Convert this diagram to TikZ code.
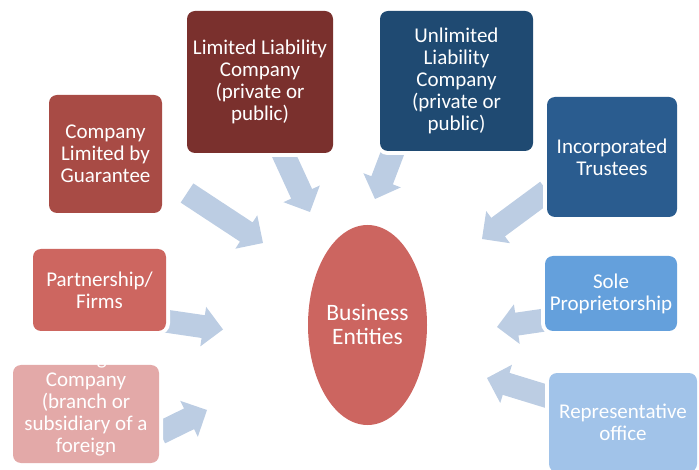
\documentclass[tikz,border=0pt]{standalone}
\usepackage{fontspec}
\setmainfont{Carlito}
\usetikzlibrary{calc,shapes.geometric}
\definecolor{cguar}{HTML}{A84B45}
\definecolor{cllc}{HTML}{7A302D}
\definecolor{cunl}{HTML}{1F4A72}
\definecolor{ctrust}{HTML}{2A5C8F}
\definecolor{csole}{HTML}{64A0DC}
\definecolor{crep}{HTML}{A1C3E9}
\definecolor{cpart}{HTML}{CD6660}
\definecolor{cfor}{HTML}{E3A9A8}
\definecolor{cell}{HTML}{CC6560}
\definecolor{carr}{HTML}{BCCDE3}
\tikzset{
  box/.style={rectangle, rounded corners=8pt, inner sep=0pt, align=center,
    text=white, font=\fontsize{21}{22}\selectfont,
    preaction={draw=white, line width=8pt}},
  ent/.style={ellipse, inner sep=0pt, align=center, text=white,
    font=\fontsize{23.5}{24}\selectfont, fill=cell,
    minimum width=119pt, minimum height=200pt},
  arrowfill/.style={fill=carr}
}
\newcommand\blockarr[2]{%
  \coordinate (#1-h) at ($(#2)!20pt!(#1)$);
  \fill[arrowfill] ($(#1)!11.5pt!90:(#2)$) -- ($(#1-h)!11.5pt!90:(#2)$)
    -- ($(#1-h)!20pt!90:(#2)$) -- (#2) -- ($(#1-h)!20pt!-90:(#2)$)
    -- ($(#1-h)!11.5pt!-90:(#2)$) -- ($(#1)!11.5pt!-90:(#2)$) -- cycle;}
\begin{document}
\begin{tikzpicture}[x=1pt,y=-1pt]
\useasboundingbox (0,0) rectangle (699,470);
% arrow end points
\coordinate (a1t) at (187,193);   \coordinate (a1h) at (263,243);
\coordinate (a2t) at (281.5,150); \coordinate (a2h) at (310,212);
\coordinate (a3t) at (394,149);   \coordinate (a3h) at (375,199);
\coordinate (a4t) at (547,191);   \coordinate (a4h) at (482,239);
\coordinate (a5t) at (545,320);   \coordinate (a5h) at (497,327);
\coordinate (a6t) at (549,397);   \coordinate (a6h) at (487,378);
\coordinate (a7t) at (165,321);   \coordinate (a7h) at (223,329.5);
\coordinate (a8t) at (160,433);   \coordinate (a8h) at (207,410);
\blockarr{a1t}{a1h}
\blockarr{a2t}{a2h}
\blockarr{a3t}{a3h}
\blockarr{a4t}{a4h}
\blockarr{a5t}{a5h}
\blockarr{a6t}{a6h}
\blockarr{a7t}{a7h}
\blockarr{a8t}{a8h}
% boxes
\node[box, fill=cguar, minimum width=113pt, minimum height=118pt] (guar) at (105.5,154)
  {Company\\Limited by\\Guarantee};
\node[box, fill=cllc, minimum width=146pt, minimum height=142pt] (llc) at (260,82)
  {Limited Liability\\Company\\(private or\\public)};
\node[box, fill=cunl, minimum width=153pt, minimum height=140pt] (unl) at (456.5,81)
  {Unlimited\\Liability\\Company\\(private or\\public)};
\node[box, fill=ctrust, minimum width=130pt, minimum height=120pt] (trust) at (612,157)
  {Incorporated\\Trustees};
\node[box, fill=csole, minimum width=132pt, minimum height=75pt] (sole) at (611,293.5)
  {Sole\\Proprietorship};
\node[box, fill=crep, minimum width=148pt, minimum height=99pt] (rep) at (623,422.5)
  {Representative\\office};
\node[box, fill=cpart, minimum width=133pt, minimum height=82pt] (part) at (99.5,290)
  {Partnership/\\Firms};
\node[box, fill=cfor, minimum width=146pt, minimum height=98pt] (for) at (86,414) {};
\node[align=center, text=white, inner sep=0pt, font=\fontsize{21}{22}\selectfont]
  (fortext) at (86,403.5) {Foreign\\Company\\(branch or\\subsidiary of a\\foreign};
\node[ent] (be) at (367.5,325) {Business\\Entities};
\end{tikzpicture}
\end{document}
